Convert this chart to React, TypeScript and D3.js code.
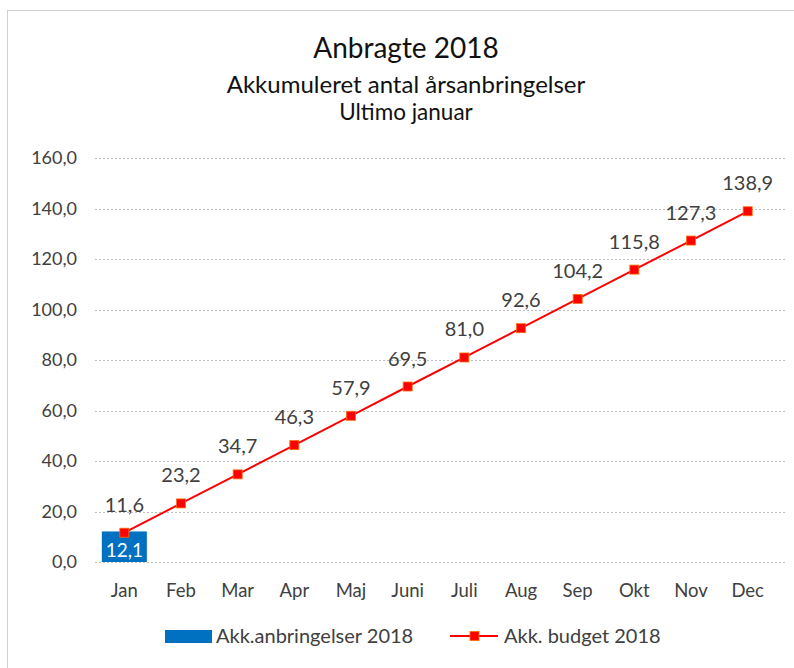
import React, { useEffect, useRef } from 'react';
import * as d3 from 'd3';

const months = ['Jan', 'Feb', 'Mar', 'Apr', 'Maj', 'Juni', 'Juli', 'Aug', 'Sep', 'Okt', 'Nov', 'Dec'];
const actual = [12.1];
const budget = [11.6, 23.2, 34.7, 46.3, 57.9, 69.5, 81.0, 92.6, 104.2, 115.8, 127.3, 138.9];
const yTicks = [0, 20, 40, 60, 80, 100, 120, 140, 160];

const fmt = (v: number) => d3.format('.1f')(v).replace('.', ',');
const FONT = 'Lato, "Open Sans", sans-serif';

const App: React.FC = () => {
  const svgRef = useRef<SVGSVGElement>(null);

  useEffect(() => {
    if (!svgRef.current) return;
    const svg = d3.select(svgRef.current);
    svg.selectAll('*').remove();

    const plot = { left: 96, right: 776, top: 158, bottom: 562 };

    // chart frame
    svg
      .append('rect')
      .attr('x', 7.5)
      .attr('y', 10.5)
      .attr('width', 900)
      .attr('height', 900)
      .attr('fill', '#fff')
      .attr('stroke', '#d0d0d0');

    // titles
    const titles = [
      { t: 'Anbragte 2018', y: 58, s: 28 },
      { t: 'Akkumuleret antal årsanbringelser', y: 93, s: 24 },
      { t: 'Ultimo januar', y: 120, s: 22.5 },
    ];
    titles.forEach(d => {
      svg
        .append('text')
        .attr('x', 406)
        .attr('y', d.y)
        .attr('text-anchor', 'middle')
        .attr('font-family', FONT)
        .attr('font-size', d.s)
        .attr('fill', '#111')
        .text(d.t);
    });

    const x = d3.scaleBand<string>().domain(months).range([plot.left, plot.right]).paddingInner(0.2).paddingOuter(0.1);
    const xc = (m: string) => (x(m) as number) + x.bandwidth() / 2;
    const y = d3.scaleLinear().domain([0, 160]).range([plot.bottom, plot.top]);

    // gridlines
    svg
      .append('g')
      .selectAll('line')
      .data(yTicks)
      .join('line')
      .attr('x1', 95)
      .attr('x2', 785)
      .attr('y1', d => Math.round(y(d)) + 0.5)
      .attr('y2', d => Math.round(y(d)) + 0.5)
      .attr('stroke', '#bdbdbd')
      .attr('stroke-dasharray', '2,2');

    // y labels
    svg
      .append('g')
      .selectAll('text')
      .data(yTicks)
      .join('text')
      .attr('x', 77)
      .attr('y', d => y(d) + 6)
      .attr('text-anchor', 'end')
      .attr('font-family', FONT)
      .attr('font-size', 18)
      .attr('fill', '#404040')
      .text(d => fmt(d));

    // x labels
    svg
      .append('g')
      .selectAll('text')
      .data(months)
      .join('text')
      .attr('x', d => xc(d))
      .attr('y', 597)
      .attr('text-anchor', 'middle')
      .attr('font-family', FONT)
      .attr('font-size', 18.5)
      .attr('fill', '#404040')
      .text(d => d);

    // bars
    const barW = 45;
    svg
      .append('g')
      .selectAll('rect')
      .data(actual)
      .join('rect')
      .attr('x', (_, i) => xc(months[i]) - barW / 2)
      .attr('width', barW)
      .attr('y', d => y(d))
      .attr('height', d => y(0) - y(d))
      .attr('fill', '#0070C0');

    svg
      .append('g')
      .selectAll('text')
      .data(actual)
      .join('text')
      .attr('x', (_, i) => xc(months[i]))
      .attr('y', 557)
      .attr('text-anchor', 'middle')
      .attr('font-family', FONT)
      .attr('font-size', 19)
      .attr('fill', '#fff')
      .text(d => fmt(d));

    // budget line
    const line = d3
      .line<number>()
      .x((_, i) => xc(months[i]))
      .y(d => y(d));

    svg
      .append('path')
      .datum(budget)
      .attr('d', line)
      .attr('fill', 'none')
      .attr('stroke', '#FF0000')
      .attr('stroke-width', 2);

    svg
      .append('g')
      .selectAll('rect')
      .data(budget)
      .join('rect')
      .attr('x', (_, i) => xc(months[i]) - 4.5)
      .attr('y', d => y(d) - 4.5)
      .attr('width', 9)
      .attr('height', 9)
      .attr('fill', '#FF0000')
      .attr('stroke', '#FF6A00')
      .attr('stroke-width', 0.8);

    svg
      .append('g')
      .selectAll('text')
      .data(budget)
      .join('text')
      .attr('x', (_, i) => xc(months[i]))
      .attr('y', d => y(d) - 21)
      .attr('text-anchor', 'middle')
      .attr('font-family', FONT)
      .attr('font-size', 20)
      .attr('fill', '#404040')
      .text(d => fmt(d));

    // legend
    const lg = svg.append('g').attr('transform', 'translate(0, 636)');
    lg.append('rect').attr('x', 165).attr('y', -6).attr('width', 47).attr('height', 13).attr('fill', '#0070C0');
    lg.append('text')
      .attr('x', 216)
      .attr('y', 7)
      .attr('font-family', FONT)
      .attr('font-size', 20)
      .attr('fill', '#404040')
      .text('Akk.anbringelser 2018');
    lg.append('line').attr('x1', 450).attr('x2', 498).attr('y1', 0).attr('y2', 0).attr('stroke', '#FF0000').attr('stroke-width', 2);
    lg.append('rect').attr('x', 470).attr('y', -4.5).attr('width', 9).attr('height', 9).attr('fill', '#FF0000').attr('stroke', '#FF6A00').attr('stroke-width', 0.8);
    lg.append('text')
      .attr('x', 504)
      .attr('y', 7)
      .attr('font-family', FONT)
      .attr('font-size', 20)
      .attr('fill', '#404040')
      .text('Akk. budget 2018');
  }, []);

  return (
    <svg
      ref={svgRef}
      width={794}
      height={668}
      style={{ position: 'absolute', left: 0, top: 0, display: 'block', background: '#fff' }}
    />
  );
};

export default App;
